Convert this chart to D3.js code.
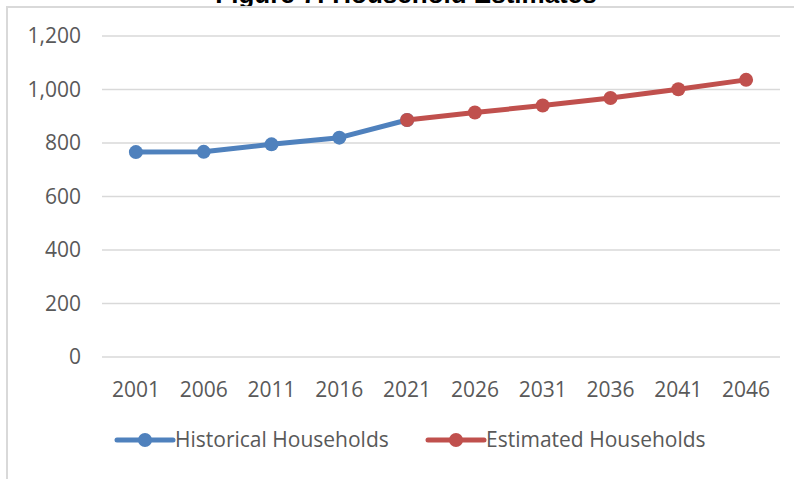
<!DOCTYPE html>
<html>
<head>
<meta charset="utf-8">
<script src="https://cdn.jsdelivr.net/npm/d3@7"></script>
<style>
  html, body { margin: 0; padding: 0; background: #fff; }
  svg { display: block; }
</style>
</head>
<body>
<div id="chart"></div>
<script>
const years = ['2001', '2006', '2011', '2016', '2021', '2026', '2031', '2036', '2041', '2046'];
const historicalYears = ['2001', '2006', '2011', '2016', '2021'];
const historicalValues = [766, 767, 795, 820, 886];
const estimatedYears = ['2021', '2026', '2031', '2036', '2041', '2046'];
const estimatedValues = [886, 914, 940, 968, 1001, 1036];
const yTicks = [0, 200, 400, 600, 800, 1000, 1200];

const width = 794, height = 479;
const labelFont = "'Open Sans', 'Noto Sans', sans-serif";
const textColor = '#595959';
const gridColor = '#d9d9d9';
const blue = '#4f81bd';
const red = '#c0504d';

const svg = d3.select('#chart').append('svg')
    .attr('width', width)
    .attr('height', height);

// Title sits above the frame and is cut off at the top, as in the source
svg.append('text')
    .attr('x', 406)
    .attr('y', 3)
    .attr('text-anchor', 'middle')
    .style('font-family', "'Liberation Sans', Arial, sans-serif")
    .style('font-weight', 'bold')
    .style('font-size', '26px')
    .attr('fill', '#000')
    .text('Figure 7: Household Estimates');

// Chart frame
svg.append('rect')
    .attr('x', 7)
    .attr('y', 7)
    .attr('width', 820)
    .attr('height', 520)
    .attr('fill', '#fff')
    .attr('stroke', gridColor)
    .attr('stroke-width', 2);

const x = d3.scaleBand()
    .domain(years)
    .range([102, 780]);

const y = d3.scaleLinear()
    .domain([0, 1200])
    .range([357, 36]);

// Gridlines
svg.append('g')
    .selectAll('line')
    .data(yTicks)
    .join('line')
    .attr('x1', x.range()[0])
    .attr('x2', x.range()[1])
    .attr('y1', d => y(d))
    .attr('y2', d => y(d))
    .attr('stroke', gridColor)
    .attr('stroke-width', 1.5);

// Y labels
svg.append('g')
    .selectAll('text')
    .data(yTicks)
    .join('text')
    .attr('x', 81)
    .attr('y', d => y(d))
    .attr('dy', '0.35em')
    .attr('text-anchor', 'end')
    .style('font-family', labelFont)
    .style('font-size', '21px')
    .attr('fill', textColor)
    .text(d => d3.format(',')(d));

// X labels
svg.append('g')
    .selectAll('text')
    .data(years)
    .join('text')
    .attr('x', d => x(d) + x.bandwidth() / 2)
    .attr('y', 397)
    .attr('text-anchor', 'middle')
    .style('font-family', labelFont)
    .style('font-size', '21px')
    .attr('fill', textColor)
    .text(d => d);

const line = d3.line()
    .x(d => x(d[0]) + x.bandwidth() / 2)
    .y(d => y(d[1]));

function drawSeries(cats, values, color) {
    const pts = cats.map((c, i) => [c, values[i]]);
    const g = svg.append('g');
    g.append('path')
        .datum(pts)
        .attr('d', line)
        .attr('fill', 'none')
        .attr('stroke', color)
        .attr('stroke-width', 5)
        .attr('stroke-linejoin', 'round')
        .attr('stroke-linecap', 'round');
    g.selectAll('circle')
        .data(pts)
        .join('circle')
        .attr('cx', d => x(d[0]) + x.bandwidth() / 2)
        .attr('cy', d => y(d[1]))
        .attr('r', 7)
        .attr('fill', color);
}

drawSeries(historicalYears, historicalValues, blue);
drawSeries(estimatedYears, estimatedValues, red);

// Legend
const legendItems = [
    { label: 'Historical Households', color: blue, x: 117 },
    { label: 'Estimated Households', color: red, x: 428 }
];
const legend = svg.append('g')
    .selectAll('g')
    .data(legendItems)
    .join('g')
    .attr('transform', d => `translate(${d.x},440)`);

legend.append('line')
    .attr('x1', 0)
    .attr('x2', 56)
    .attr('stroke', d => d.color)
    .attr('stroke-width', 5)
    .attr('stroke-linecap', 'round');

legend.append('circle')
    .attr('cx', 28)
    .attr('r', 7)
    .attr('fill', d => d.color);

legend.append('text')
    .attr('x', 58)
    .attr('dy', '0.35em')
    .style('font-family', labelFont)
    .style('font-size', '21px')
    .attr('fill', textColor)
    .text(d => d.label);
</script>
</body>
</html>
